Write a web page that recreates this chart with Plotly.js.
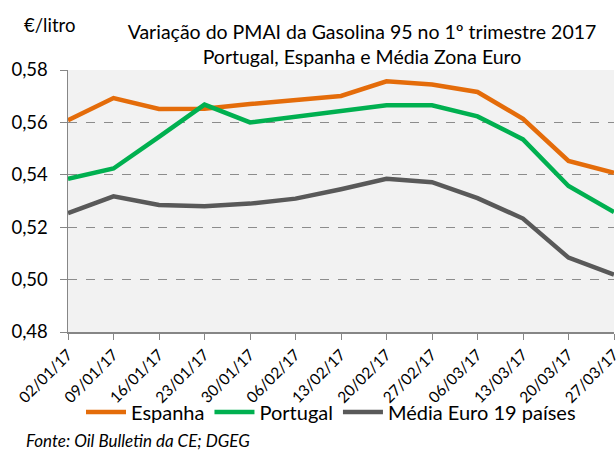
<!DOCTYPE html>
<html>
<head>
<meta charset="utf-8">
<script src="https://cdn.plot.ly/plotly-3.0.1.min.js"></script>
<style>html,body{margin:0;padding:0;background:#fff;}#chart{width:616px;height:450px;}</style>
</head>
<body>
<div id="chart"></div>
<script>
const dates = ["02/01/17","09/01/17","16/01/17","23/01/17","30/01/17","06/02/17","13/02/17","20/02/17","27/02/17","06/03/17","13/03/17","20/03/17","27/03/17"];
const espanha = [0.5608,0.5693,0.5651,0.5652,0.5670,0.5684,0.5701,0.5757,0.5745,0.5716,0.5614,0.5453,0.5408];
const portugal = [0.5385,0.5424,0.5545,0.5668,0.5600,0.5623,0.5642,0.5665,0.5665,0.5623,0.5535,0.5357,0.5258];
const mediaEuro = [0.5254,0.5318,0.5285,0.5280,0.5290,0.5309,0.5345,0.5385,0.5372,0.5311,0.5233,0.5084,0.5019];
const seriesNames = ["Espanha","Portugal","Média Euro 19 países"];
const colors = ["#E46C0A","#00B050","#595959"];
const FONT = "Lato, 'Open Sans', sans-serif";

const traces = [espanha, portugal, mediaEuro].map((v,i)=>({
  x: dates, y: v, type: "scatter", mode: "lines", name: seriesNames[i],
  line: {color: colors[i], width: 4.5}
}));

// plot area in pixels: x 68..614, y 70..332
const px = x => (x - 68) / 546;
const py = y => (332 - y) / 262;

const layout = {
  width: 616, height: 450,
  margin: {l: 68, r: 2, t: 70, b: 118},
  paper_bgcolor: "#ffffff",
  plot_bgcolor: "#F2F2F2",
  separators: ",.",
  font: {family: FONT, color: "#000", size: 18},
  title: {
    text: "Variação do PMAI da Gasolina 95 no 1º trimestre 2017<br>Portugal, Espanha e Média Zona Euro",
    x: 362/616, xanchor: "center", xref: "container",
    y: 1 - 39/450, yanchor: "middle", yref: "container",
    font: {family: FONT, size: 19.5, color: "#000"}
  },
  xaxis: {
    type: "category", range: [0, 12],
    tickangle: -45, ticks: "outside", ticklen: 6, tickcolor: "#868686",
    showline: true, linecolor: "#868686", linewidth: 1.5,
    showgrid: false, zeroline: false,
    tickfont: {family: FONT, size: 15.5, color: "#000"}
  },
  yaxis: {
    range: [0.48, 0.58], dtick: 0.02, tick0: 0.48, tickformat: ".2f",
    ticks: "outside", ticklen: 7, tickcolor: "#868686",
    showline: true, linecolor: "#868686", linewidth: 1.5,
    showgrid: true, gridcolor: "#8C8C8C", griddash: "dash", gridwidth: 1,
    zeroline: false, ticklabelstandoff: 8,
    tickfont: {family: FONT, size: 18.5, color: "#000"}
  },
  legend: {
    orientation: "h", x: 331/616, xanchor: "center", xref: "container",
    y: 1 - 412/450, yref: "container", yanchor: "middle",
    font: {family: FONT, size: 20, color: "#000"},
    itemwidth: 40, tracegroupgap: 0, bgcolor: "rgba(0,0,0,0)"
  },
  annotations: [
    {text: "€/litro", xref: "paper", yref: "paper", x: px(22), y: py(25), xanchor: "left", yanchor: "middle",
     showarrow: false, font: {family: FONT, size: 18.5, color: "#000"}},
    {text: "<i>Fonte: Oil Bulletin da CE; DGEG</i>", xref: "paper", yref: "paper", x: px(24), y: py(440),
     xanchor: "left", yanchor: "middle", showarrow: false, font: {family: FONT, size: 17, color: "#000"}}
  ]
};

Plotly.newPlot("chart", traces, layout, {displayModeBar: false, staticPlot: true});
</script>
</body>
</html>
